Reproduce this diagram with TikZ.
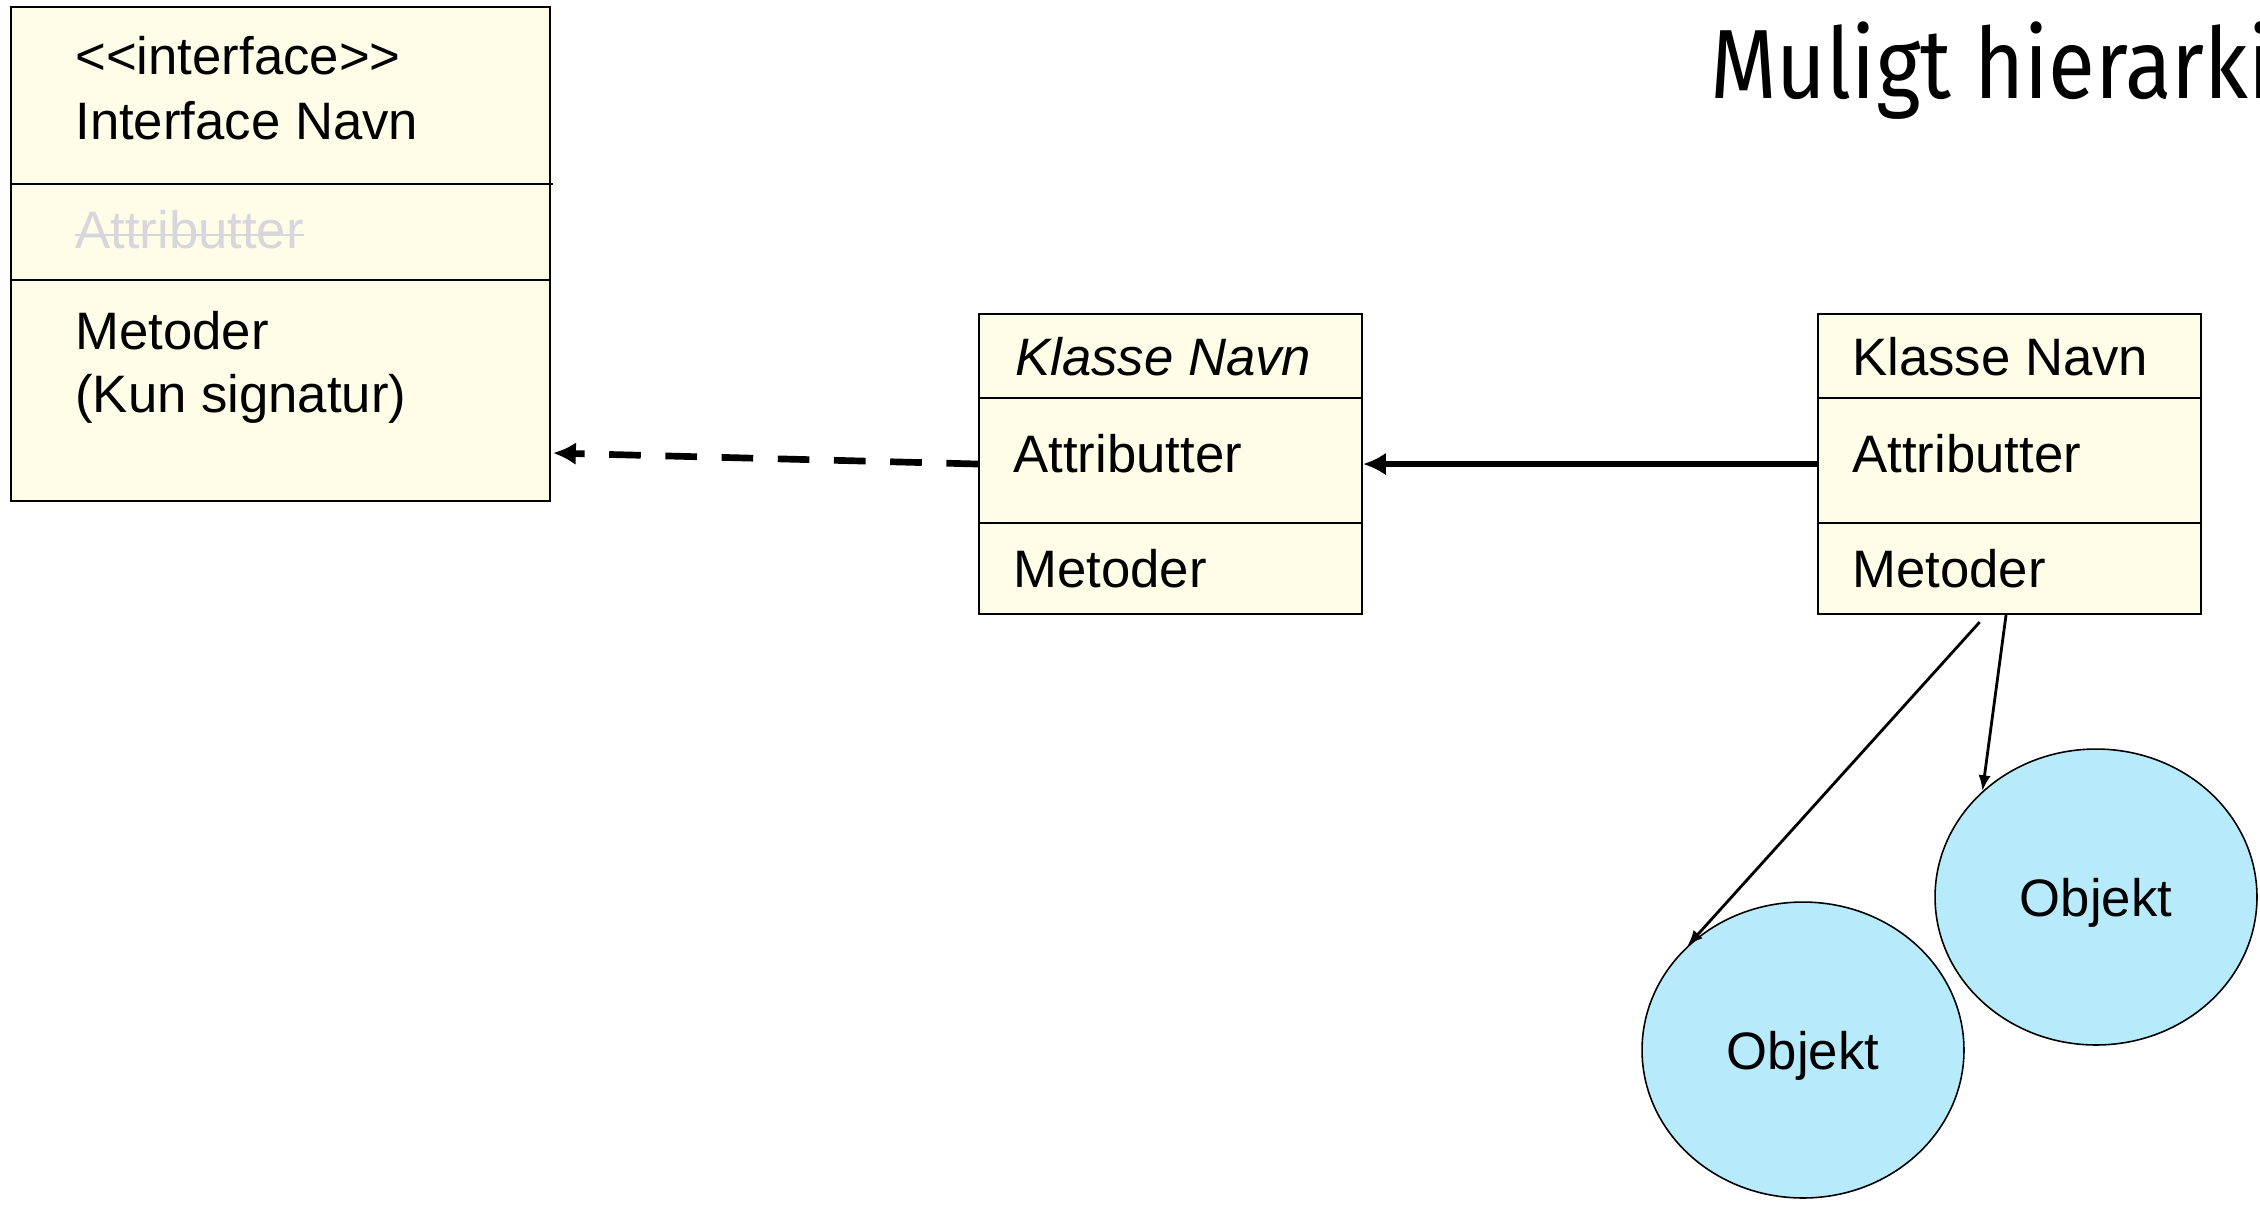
\documentclass[tikz,border=0pt]{standalone}
\usepackage{fontspec}
\setmainfont{Liberation Sans}
\newfontfamily\titlefont[FakeStretch=0.87]{Fira Sans}
\usetikzlibrary{arrows.meta,shapes.geometric,positioning}
\definecolor{classfill}{RGB}{255,253,231}
\definecolor{objfill}{RGB}{183,235,252}
\definecolor{strikegray}{RGB}{214,214,220}

\begin{document}
\begin{tikzpicture}[x=0.02cm,y=-0.02cm]
    \tikzstyle{umlbox}=[draw,fill=classfill,line width=1.2pt,inner sep=0pt,anchor=north west]
    \tikzstyle{umltext}=[inner sep=0pt,anchor=base west,font=\fontsize{30}{36}\selectfont]
    \tikzstyle{divider}=[line width=0.8pt]
    \tikzstyle{objekt}=[ellipse,draw,fill=objfill,line width=0.9pt,inner sep=0pt,text depth=0pt,
                        minimum width=6.44cm,minimum height=5.92cm,font=\fontsize{30}{36}\selectfont]
    \tikzstyle{realize}=[line width=3.8pt,dash pattern=on 18pt off 14pt,-{Latex[length=13pt,width=13pt]}]
    \tikzstyle{inherit}=[line width=3.8pt,-{Latex[length=13pt,width=13pt]}]
    \tikzstyle{instance}=[line width=1.6pt,-{Latex[length=9pt,width=7pt]}]

    \useasboundingbox (0,0) rectangle (2260,1208);
    \clip (0,0) rectangle (2260,1208);

    \node[anchor=base west,inner sep=0pt,font=\titlefont\fontsize{56}{62}\selectfont] (title) at (1710,98) {Muligt hierarki};

    \node[umlbox,minimum width=10.78cm,minimum height=9.88cm] (iface) at (10,6) {};
    \draw[divider] (iface.west |- 0,184) -- (553,184);
    \draw[divider] (iface.west |- 0,280) -- (iface.east |- 0,280);
    \node[umltext] (ifacestereo) at (75,74)  {<\kern0pt<interface>\kern0pt>};
    \node[umltext] (ifacename)   at (75,139) {Interface Navn};
    \node[umltext,text=strikegray] (ifaceattr) at (75,248) {Attributter};
    \draw[strikegray,line width=1.5pt] ([yshift=7.4pt]ifaceattr.base west) -- ([yshift=7.4pt]ifaceattr.base east);
    \node[umltext] (ifacemeth)   at (75,349) {Metoder};
    \node[umltext] (ifacesig)    at (75,412) {(Kun signatur)};

    \node[umlbox,minimum width=7.66cm,minimum height=6cm] (mid) at (978,313) {};
    \draw[divider] (mid.west |- 0,398) -- (mid.east |- 0,398);
    \draw[divider] (mid.west |- 0,523) -- (mid.east |- 0,523);
    \node[umltext,font=\fontsize{30}{36}\selectfont\itshape] (midname) at (1015,375) {Klasse Navn};
    \node[umltext] (midattr) at (1013,472) {Attributter};
    \node[umltext] (midmeth) at (1013,587) {Metoder};

    \node[umlbox,minimum width=7.66cm,minimum height=6cm] (right) at (1817,313) {};
    \draw[divider] (right.west |- 0,398) -- (right.east |- 0,398);
    \draw[divider] (right.west |- 0,523) -- (right.east |- 0,523);
    \node[umltext] (rightname) at (1852,375) {Klasse Navn};
    \node[umltext] (rightattr) at (1852,472) {Attributter};
    \node[umltext] (rightmeth) at (1852,587) {Metoder};

    \node[objekt] (obj1) at (1803,1050) {Objekt};
    \node[objekt] (obj2) at (2096,897)  {Objekt};

    \coordinate (ifacein) at (553,453);
    \draw[realize] (mid.west) -- (ifacein);
    \draw[inherit] (right.west) -- (mid.east);
    \draw[instance] ([xshift=-17pt,yshift=-4pt]right.south) -- (obj1.138);
    \draw[instance] ([xshift=-2pt]right.south) -- (obj2.137);
  \end{tikzpicture}
\end{document}
